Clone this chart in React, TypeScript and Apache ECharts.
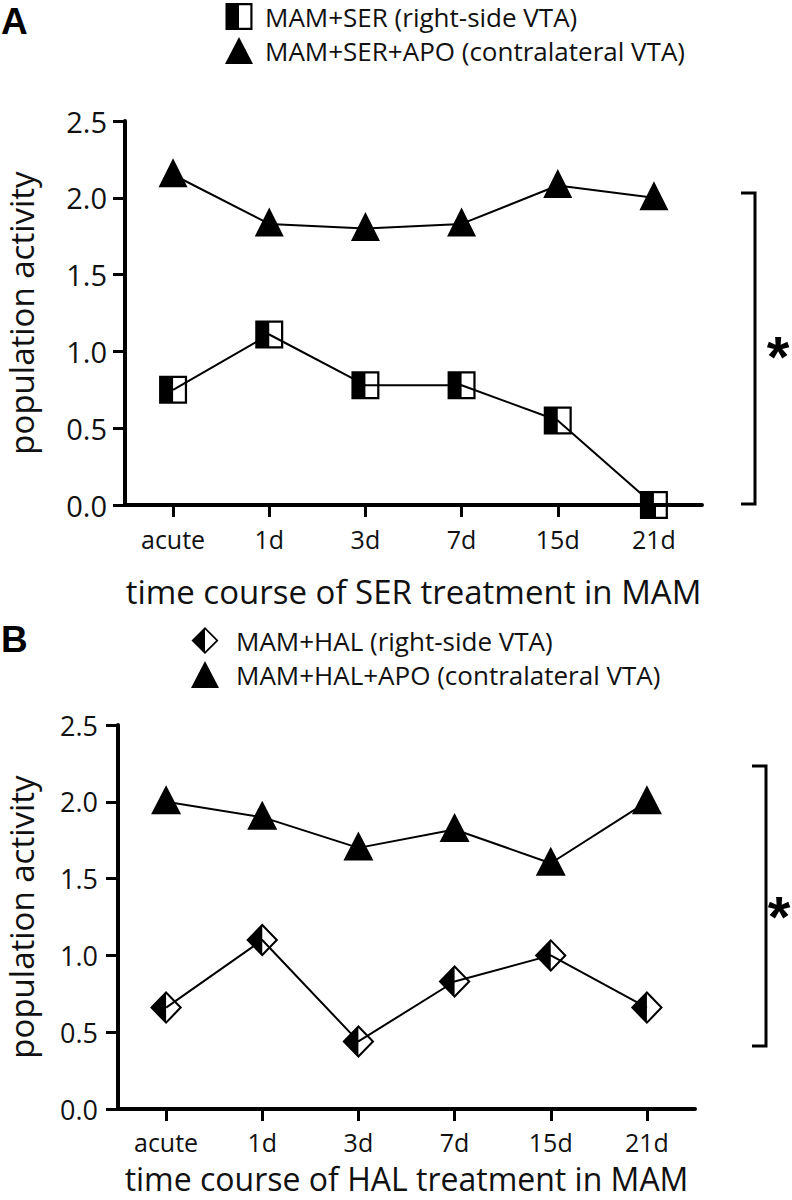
import React, { useEffect, useRef } from "react";
import * as echarts from "echarts";

// ---------- data ----------
const categories = ["acute", "1d", "3d", "7d", "15d", "21d"];
const yMin = 0;
const yMax = 2.5;
const yInterval = 0.5;

const serName = "MAM+SER (right-side VTA)";
const serApoName = "MAM+SER+APO (contralateral VTA)";
const halName = "MAM+HAL (right-side VTA)";
const halApoName = "MAM+HAL+APO (contralateral VTA)";

const serValues = [0.75, 1.11, 0.78, 0.78, 0.55, 0.0];
const serApoValues = [2.15, 1.83, 1.8, 1.83, 2.08, 2.0];
const halValues = [0.66, 1.1, 0.44, 0.83, 1.0, 0.66];
const halApoValues = [2.0, 1.9, 1.7, 1.82, 1.6, 2.0];

const xTitleA = "time course of SER treatment in MAM";
const xTitleB = "time course of HAL treatment in MAM";
const yTitle = "population activity";
const panelA = "A";
const panelB = "B";
const sigMark = "*";

// ---------- styles ----------
const FONT = "Open Sans";
const BLACK = "#000";
const HALF_SQUARE =
  "path://M0,0 L10,0 L10,10 L0,10 Z M5,0.8 L5,9.2 L9.2,9.2 L9.2,0.8 Z";
const HALF_DIAMOND =
  "path://M5,0 L10,5 L5,10 L0,5 Z M5,0.9 L5,9.1 L9.1,5 Z";

function xAxisFor(
  gridIndex: number,
  title: string,
  nameGap: number,
  titleSize: number,
  labelMargin: number
) {
  return {
    type: "category",
    gridIndex,
    data: categories,
    boundaryGap: true,
    axisLine: { show: true, lineStyle: { color: BLACK, width: 4 } },
    axisTick: {
      show: true,
      alignWithLabel: true,
      length: 12,
      lineStyle: { color: BLACK, width: 3 },
    },
    axisLabel: {
      color: "#111",
      fontFamily: FONT,
      fontSize: 25,
      lineHeight: 24,
      margin: labelMargin,
    },
    splitLine: { show: false },
    name: title,
    nameLocation: "middle",
    nameGap,
    nameTextStyle: { color: "#111", fontFamily: FONT, fontSize: titleSize, lineHeight: titleSize },
  };
}

function yAxisFor(gridIndex: number, labelSize: number, labelMargin: number, nameGap: number) {
  return {
    type: "value",
    gridIndex,
    min: yMin,
    max: yMax,
    interval: yInterval,
    axisLine: { show: true, onZero: false, lineStyle: { color: BLACK, width: 4 } },
    axisTick: { show: true, length: 12, lineStyle: { color: BLACK, width: 3 } },
    axisLabel: {
      color: "#111",
      fontFamily: FONT,
      fontSize: labelSize,
      margin: labelMargin,
      formatter: (v: number) => v.toFixed(1),
    },
    splitLine: { show: false },
    name: yTitle,
    nameLocation: "middle",
    nameRotate: 90,
    nameGap,
    nameTextStyle: { color: "#111", fontFamily: FONT, fontSize: 33, lineHeight: 34 },
  };
}

function lineSeries(
  name: string,
  data: number[],
  idx: number,
  symbol: string,
  size: number[],
  offset: number[] = [0, 0]
) {
  return {
    type: "line",
    name,
    data,
    xAxisIndex: idx,
    yAxisIndex: idx,
    symbol,
    symbolSize: size,
    symbolOffset: offset,
    showSymbol: true,
    lineStyle: { color: BLACK, width: 2 },
    itemStyle: { color: BLACK, borderWidth: 0, opacity: 1 },
    emphasis: { disabled: true },
    z: 3,
  };
}

function legendFor(top: number, left: number, names: string[], icons: string[], padLeft: number) {
  return {
    top,
    left,
    orient: "vertical",
    itemWidth: 28,
    itemHeight: 27,
    itemGap: 7,
    selectedMode: false,
    data: names.map((n, i) => ({ name: n, icon: icons[i] })),
    textStyle: {
      color: "#111",
      fontFamily: FONT,
      fontSize: 26,
      lineHeight: 27,
      padding: [0, 0, 0, padLeft],
    },
  };
}

export default function App() {
  const ref = useRef<HTMLDivElement>(null);

  useEffect(() => {
    document.body.style.margin = "0";
    if (!ref.current) return;
    const chart = echarts.init(ref.current, undefined, { renderer: "svg" });

    const sigFont = "bold 58px 'Liberation Sans'";
    const option: any = {
      animation: false,
      backgroundColor: "#fff",
      grid: [
        { left: 125, top: 121, width: 577, height: 384, outerBoundsMode: "none", containLabel: false },
        { left: 118, top: 725, width: 577, height: 384, outerBoundsMode: "none", containLabel: false },
      ],
      xAxis: [xAxisFor(0, xTitleA, 70, 33, 22), xAxisFor(1, xTitleB, 53, 32, 21)],
      yAxis: [yAxisFor(0, 29, 18, 87), yAxisFor(1, 27, 20, 80)],
      legend: [
        legendFor(-2, 220, [serName, serApoName], [HALF_SQUARE, "triangle"], 7),
        legendFor(622, 186, [halName, halApoName], [HALF_DIAMOND, "triangle"], 12),
      ],
      series: [
        lineSeries(serName, serValues, 0, HALF_SQUARE, [28, 28]),
        lineSeries(serApoName, serApoValues, 0, "triangle", [29, 29], [0, -2]),
        lineSeries(halName, halValues, 1, HALF_DIAMOND, [32, 33]),
        lineSeries(halApoName, halApoValues, 1, "triangle", [30, 29], [0, -2]),
      ],
      graphic: [
        {
          type: "text",
          left: 1,
          top: 3,
          style: { text: panelA, fill: BLACK, font: "bold 37px 'Liberation Sans'" },
        },
        {
          type: "text",
          left: 1,
          top: 621,
          style: { text: panelB, fill: BLACK, font: "bold 37px 'Liberation Sans'" },
        },
        {
          type: "polyline",
          shape: { points: [[741, 193], [755, 193], [755, 504], [741, 504]] },
          style: { stroke: BLACK, lineWidth: 3, fill: null },
        },
        {
          type: "polyline",
          shape: { points: [[752, 766], [766, 766], [766, 1046], [752, 1046]] },
          style: { stroke: BLACK, lineWidth: 3, fill: null },
        },
        {
          type: "text",
          x: 778,
          y: 356,
          style: {
            text: sigMark,
            fill: BLACK,
            font: sigFont,
            textAlign: "center",
            textVerticalAlign: "middle",
          },
        },
        {
          type: "text",
          x: 779,
          y: 916,
          style: {
            text: sigMark,
            fill: BLACK,
            font: sigFont,
            textAlign: "center",
            textVerticalAlign: "middle",
          },
        },
      ],
    };

    chart.setOption(option);
    return () => chart.dispose();
  }, []);

  return <div ref={ref} style={{ width: 792, height: 1200 }} />;
}
